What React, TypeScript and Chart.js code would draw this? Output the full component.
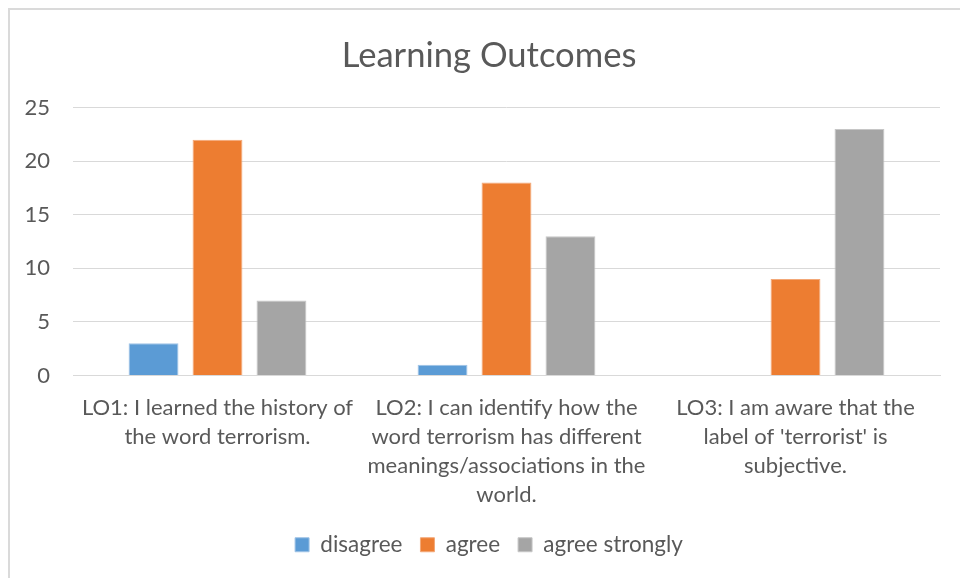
import React, { useEffect, useRef } from "react";
import { Chart, registerables } from "chart.js";

Chart.register(...registerables);

const categories: string[][] = [
  ["LO1: I learned the history of", "the word terrorism."],
  ["LO2: I can identify how the", "word terrorism has different", "meanings/associations in the", "world."],
  ["LO3: I am aware that the", "label of 'terrorist' is", "subjective."],
];
const disagree = [3, 1, 0];
const agree = [22, 18, 9];
const agreeStrongly = [7, 13, 23];
const yTicks = [0, 5, 10, 15, 20, 25];

const FONT = "Lato, 'Open Sans', sans-serif";
const TEXT = "#595959";

const widenYLabelArea = {
  id: "widenYLabelArea",
  afterLayout(chart: any) {
    const y = chart.scales.y;
    if (y) y.left = 0;
  },
};

export default function App() {
  const ref = useRef<HTMLCanvasElement | null>(null);
  useEffect(() => {
    if (!ref.current) return;
    const chart = new Chart(ref.current, {
      type: "bar",
      data: {
        labels: categories,
        datasets: [
          { label: "disagree", data: disagree, backgroundColor: "#5B9BD5", borderColor: "#9fc3e6", borderWidth: 1 },
          { label: "agree", data: agree, backgroundColor: "#ED7D31", borderColor: "#f3a878", borderWidth: 1 },
          { label: "agree strongly", data: agreeStrongly, backgroundColor: "#A5A5A5", borderColor: "#c6c6c6", borderWidth: 1 },
        ],
      },
      plugins: [widenYLabelArea],
      options: {
        responsive: false,
        animation: false,
        maintainAspectRatio: false,
        layout: { padding: { left: 38, right: 20, top: 0, bottom: 12 } },
        datasets: { bar: { categoryPercentage: 0.664, barPercentage: 0.78 } },
        plugins: {
          title: {
            display: true,
            text: "Learning Outcomes",
            color: TEXT,
            font: { family: FONT, size: 34.6, weight: "normal" },
            padding: { top: 35, bottom: 31 },
          },
          legend: {
            position: "bottom",
            labels: {
              color: TEXT,
              font: { family: FONT, size: 22.5 },
              boxWidth: 14,
              boxHeight: 14,
              padding: 18,
            },
          },
          tooltip: { enabled: false },
        },
        scales: {
          x: {
            grid: { display: false, drawTicks: false },
            border: { color: "#d9d9d9", width: 1 },
            ticks: {
              color: TEXT,
              font: { family: FONT, size: 22, lineHeight: 29 / 22 },
              maxRotation: 0,
              autoSkip: false,
              padding: 18,
            },
            afterFit: (s: any) => { s.height = 140; },
          },
          y: {
            min: 0,
            max: 25,
            afterBuildTicks: (s: any) => { s.ticks = yTicks.map((v) => ({ value: v })); },
            grid: { color: "#d9d9d9", drawTicks: false },
            border: { display: false },
            ticks: {
              color: TEXT,
              font: { family: FONT, size: 22 },
              padding: 23,
            },
            afterFit: (s: any) => { s.width = 35; },
          },
        },
      } as any,
    });
    return () => chart.destroy();
  }, []);
  return (
    <>
      <div style={{ position: "fixed", left: 0, top: 0, width: 960, height: 578, background: "#fff" }}>
        <canvas ref={ref} width={960} height={578} style={{ width: 960, height: 578, display: "block" }} />
      </div>
      <div
        style={{
          position: "fixed",
          left: 8,
          top: 8,
          right: 0,
          bottom: 0,
          borderLeft: "2px solid #dadada",
          borderTop: "2px solid #dadada",
          pointerEvents: "none",
        }}
      />
    </>
  );
}
